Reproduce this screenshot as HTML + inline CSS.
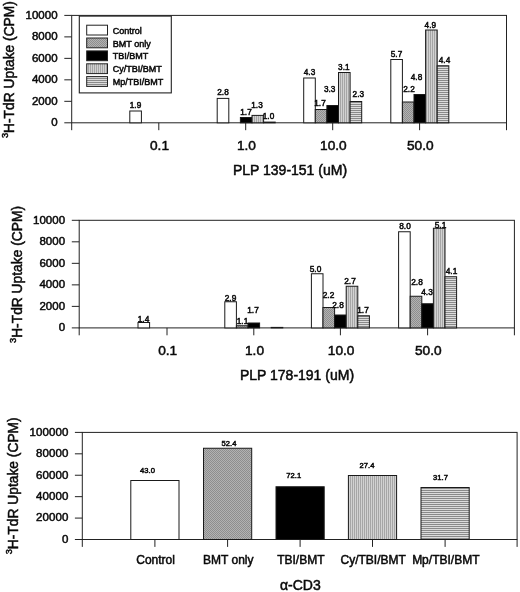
<!DOCTYPE html>
<html><head><meta charset="utf-8"><title>chart</title>
<style>
html,body{margin:0;padding:0;background:#fff;}
svg{display:block;font-family:"Liberation Sans", sans-serif;fill:#0a0a0a;filter:grayscale(100%);}
text{stroke:#0a0a0a;stroke-width:.5px;}
</style></head><body>
<svg width="520" height="592" viewBox="0 0 520 592">
<defs>
<pattern id="pD" width="2" height="2" patternUnits="userSpaceOnUse"><rect width="2" height="2" fill="#b2b2b2"/><rect width="1" height="1" fill="#8e8e8e"/><rect x="1" y="1" width="1" height="1" fill="#8e8e8e"/></pattern>
<pattern id="pV" width="2" height="2" patternUnits="userSpaceOnUse"><rect width="2" height="2" fill="#d2d2d2"/><rect width="1" height="2" fill="#a6a6a6"/></pattern>
<pattern id="pH" width="2" height="2" patternUnits="userSpaceOnUse"><rect width="2" height="2" fill="#dcdcdc"/><rect width="2" height="1" fill="#8a8a8a"/></pattern>
</defs>
<rect width="520" height="592" fill="#fff"/>

<rect x="71.7" y="15.4" width="434.8" height="107.39999999999999" fill="none" stroke="#222" stroke-width="1"/>
<line x1="64.3" y1="122.8" x2="71.7" y2="122.8" stroke="#222" stroke-width="1"/>
<text x="57.800000000000004" y="126.2" font-size="11.5" text-anchor="end" font-weight="normal" letter-spacing="0.08">0</text>
<line x1="64.3" y1="101.32" x2="71.7" y2="101.32" stroke="#222" stroke-width="1"/>
<text x="57.800000000000004" y="104.72" font-size="11.5" text-anchor="end" font-weight="normal" letter-spacing="0.08">2000</text>
<line x1="64.3" y1="79.84" x2="71.7" y2="79.84" stroke="#222" stroke-width="1"/>
<text x="57.800000000000004" y="83.24000000000001" font-size="11.5" text-anchor="end" font-weight="normal" letter-spacing="0.08">4000</text>
<line x1="64.3" y1="58.36" x2="71.7" y2="58.36" stroke="#222" stroke-width="1"/>
<text x="57.800000000000004" y="61.76" font-size="11.5" text-anchor="end" font-weight="normal" letter-spacing="0.08">6000</text>
<line x1="64.3" y1="36.88000000000001" x2="71.7" y2="36.88000000000001" stroke="#222" stroke-width="1"/>
<text x="57.800000000000004" y="40.28000000000001" font-size="11.5" text-anchor="end" font-weight="normal" letter-spacing="0.08">8000</text>
<line x1="64.3" y1="15.399999999999991" x2="71.7" y2="15.399999999999991" stroke="#222" stroke-width="1"/>
<text x="57.800000000000004" y="18.79999999999999" font-size="11.5" text-anchor="end" font-weight="normal" letter-spacing="0.08">10000</text>
<line x1="71.7" y1="122.8" x2="71.7" y2="130.2" stroke="#222" stroke-width="1"/>
<line x1="506.5" y1="122.8" x2="506.5" y2="130.2" stroke="#222" stroke-width="1"/>
<line x1="158.8" y1="122.8" x2="158.8" y2="130.2" stroke="#222" stroke-width="1"/>
<line x1="245.7" y1="122.8" x2="245.7" y2="130.2" stroke="#222" stroke-width="1"/>
<line x1="332.7" y1="122.8" x2="332.7" y2="130.2" stroke="#222" stroke-width="1"/>
<line x1="419.6" y1="122.8" x2="419.6" y2="130.2" stroke="#222" stroke-width="1"/>
<text x="159.5" y="149.6" font-size="13.7" text-anchor="middle" font-weight="normal" >0.1</text>
<text x="246.39999999999998" y="149.6" font-size="13.7" text-anchor="middle" font-weight="normal" >1.0</text>
<text x="333.4" y="149.6" font-size="13.7" text-anchor="middle" font-weight="normal" >10.0</text>
<text x="420.3" y="149.6" font-size="13.7" text-anchor="middle" font-weight="normal" >50.0</text>
<text x="290" y="174.7" font-size="14" text-anchor="middle" font-weight="normal" >PLP 139-151 (uM)</text>
<text transform="translate(14.3,69.6) rotate(-90)" font-size="13.8" text-anchor="middle"><tspan font-size="9.3" dy="-6.8">3</tspan><tspan dy="6.8">H-TdR Uptake (CPM)</tspan></text>
<rect x="129.80" y="111.00" width="11.60" height="11.80" fill="#fff" stroke="#1a1a1a" stroke-width="1"/>
<rect x="217.20" y="98.40" width="11.60" height="24.40" fill="#fff" stroke="#1a1a1a" stroke-width="1"/>
<rect x="240.40" y="117.50" width="11.60" height="5.30" fill="#000" stroke="#1a1a1a" stroke-width="1"/>
<rect x="252.00" y="115.40" width="11.60" height="7.40" fill="url(#pV)" stroke="#1a1a1a" stroke-width="1"/>
<rect x="263.60" y="122.10" width="11.60" height="0.70" fill="url(#pH)" stroke="#1a1a1a" stroke-width="1"/>
<rect x="303.70" y="78.00" width="11.60" height="44.80" fill="#fff" stroke="#1a1a1a" stroke-width="1"/>
<rect x="315.30" y="109.50" width="11.60" height="13.30" fill="url(#pD)" stroke="#1a1a1a" stroke-width="1"/>
<rect x="326.90" y="105.50" width="11.60" height="17.30" fill="#000" stroke="#1a1a1a" stroke-width="1"/>
<rect x="338.50" y="72.50" width="11.60" height="50.30" fill="url(#pV)" stroke="#1a1a1a" stroke-width="1"/>
<rect x="350.10" y="101.50" width="11.60" height="21.30" fill="url(#pH)" stroke="#1a1a1a" stroke-width="1"/>
<rect x="390.80" y="59.50" width="11.60" height="63.30" fill="#fff" stroke="#1a1a1a" stroke-width="1"/>
<rect x="402.40" y="102.00" width="11.60" height="20.80" fill="url(#pD)" stroke="#1a1a1a" stroke-width="1"/>
<rect x="414.00" y="94.50" width="11.60" height="28.30" fill="#000" stroke="#1a1a1a" stroke-width="1"/>
<rect x="425.60" y="30.00" width="11.60" height="92.80" fill="url(#pV)" stroke="#1a1a1a" stroke-width="1"/>
<rect x="437.20" y="65.75" width="11.60" height="57.05" fill="url(#pH)" stroke="#1a1a1a" stroke-width="1"/>
<text x="135.5" y="108" font-size="8.2" text-anchor="middle" font-weight="normal" stroke-width="0.7">1.9</text>
<text x="223" y="95" font-size="8.2" text-anchor="middle" font-weight="normal" stroke-width="0.7">2.8</text>
<text x="246" y="114.5" font-size="8.2" text-anchor="middle" font-weight="normal" stroke-width="0.7">1.7</text>
<text x="257" y="107.8" font-size="8.2" text-anchor="middle" font-weight="normal" stroke-width="0.7">1.3</text>
<text x="268.5" y="118.8" font-size="8.2" text-anchor="middle" font-weight="normal" stroke-width="0.7">1.0</text>
<text x="309.5" y="74.5" font-size="8.2" text-anchor="middle" font-weight="normal" stroke-width="0.7">4.3</text>
<text x="320" y="106" font-size="8.2" text-anchor="middle" font-weight="normal" stroke-width="0.7">1.7</text>
<text x="329.6" y="92.4" font-size="8.2" text-anchor="middle" font-weight="normal" stroke-width="0.7">3.3</text>
<text x="343.8" y="69.6" font-size="8.2" text-anchor="middle" font-weight="normal" stroke-width="0.7">3.1</text>
<text x="358.3" y="97.4" font-size="8.2" text-anchor="middle" font-weight="normal" stroke-width="0.7">2.3</text>
<text x="396.5" y="56.5" font-size="8.2" text-anchor="middle" font-weight="normal" stroke-width="0.7">5.7</text>
<text x="409" y="92" font-size="8.2" text-anchor="middle" font-weight="normal" stroke-width="0.7">2.2</text>
<text x="416.5" y="79.5" font-size="8.2" text-anchor="middle" font-weight="normal" stroke-width="0.7">4.8</text>
<text x="430.3" y="27.8" font-size="8.2" text-anchor="middle" font-weight="normal" stroke-width="0.7">4.9</text>
<text x="444.5" y="63" font-size="8.2" text-anchor="middle" font-weight="normal" stroke-width="0.7">4.4</text>
<rect x="79.3" y="16.1" width="92" height="76.8" fill="#fff" stroke="#222" stroke-width="1.1"/>
<rect x="86.7" y="25.2" width="20.8" height="9.8" fill="#fff" stroke="#222" stroke-width="1"/>
<text x="112.8" y="33.7" font-size="9.0" text-anchor="start" font-weight="normal" stroke-width="0.65">Control</text>
<rect x="86.7" y="38.0" width="20.8" height="9.8" fill="url(#pD)" stroke="#222" stroke-width="1"/>
<text x="112.8" y="46.55" font-size="9.0" text-anchor="start" font-weight="normal" stroke-width="0.65">BMT only</text>
<rect x="86.7" y="50.9" width="20.8" height="9.8" fill="#000" stroke="#222" stroke-width="1"/>
<text x="112.8" y="59.4" font-size="9.0" text-anchor="start" font-weight="normal" stroke-width="0.65">TBI/BMT</text>
<rect x="86.7" y="63.8" width="20.8" height="9.8" fill="url(#pV)" stroke="#222" stroke-width="1"/>
<text x="112.8" y="72.25" font-size="9.0" text-anchor="start" font-weight="normal" stroke-width="0.65">Cy/TBI/BMT</text>
<rect x="86.7" y="76.6" width="20.8" height="9.8" fill="url(#pH)" stroke="#222" stroke-width="1"/>
<text x="112.8" y="85.1" font-size="9.0" text-anchor="start" font-weight="normal" stroke-width="0.65">Mp/TBI/BMT</text>
<rect x="79.2" y="220.3" width="435.2" height="107.59999999999997" fill="none" stroke="#222" stroke-width="1"/>
<line x1="71.8" y1="327.9" x2="79.2" y2="327.9" stroke="#222" stroke-width="1"/>
<text x="65.3" y="331.29999999999995" font-size="11.5" text-anchor="end" font-weight="normal" letter-spacing="0.08">0</text>
<line x1="71.8" y1="306.38" x2="79.2" y2="306.38" stroke="#222" stroke-width="1"/>
<text x="65.3" y="309.78" font-size="11.5" text-anchor="end" font-weight="normal" letter-spacing="0.08">2000</text>
<line x1="71.8" y1="284.86" x2="79.2" y2="284.86" stroke="#222" stroke-width="1"/>
<text x="65.3" y="288.26" font-size="11.5" text-anchor="end" font-weight="normal" letter-spacing="0.08">4000</text>
<line x1="71.8" y1="263.34000000000003" x2="79.2" y2="263.34000000000003" stroke="#222" stroke-width="1"/>
<text x="65.3" y="266.74" font-size="11.5" text-anchor="end" font-weight="normal" letter-spacing="0.08">6000</text>
<line x1="71.8" y1="241.82" x2="79.2" y2="241.82" stroke="#222" stroke-width="1"/>
<text x="65.3" y="245.22" font-size="11.5" text-anchor="end" font-weight="normal" letter-spacing="0.08">8000</text>
<line x1="71.8" y1="220.3" x2="79.2" y2="220.3" stroke="#222" stroke-width="1"/>
<text x="65.3" y="223.70000000000002" font-size="11.5" text-anchor="end" font-weight="normal" letter-spacing="0.08">10000</text>
<line x1="79.2" y1="327.9" x2="79.2" y2="335.29999999999995" stroke="#222" stroke-width="1"/>
<line x1="514.4" y1="327.9" x2="514.4" y2="335.29999999999995" stroke="#222" stroke-width="1"/>
<line x1="167.0" y1="327.9" x2="167.0" y2="335.29999999999995" stroke="#222" stroke-width="1"/>
<line x1="253.8" y1="327.9" x2="253.8" y2="335.29999999999995" stroke="#222" stroke-width="1"/>
<line x1="340.4" y1="327.9" x2="340.4" y2="335.29999999999995" stroke="#222" stroke-width="1"/>
<line x1="427.6" y1="327.9" x2="427.6" y2="335.29999999999995" stroke="#222" stroke-width="1"/>
<text x="167.7" y="355" font-size="13.7" text-anchor="middle" font-weight="normal" >0.1</text>
<text x="254.5" y="355" font-size="13.7" text-anchor="middle" font-weight="normal" >1.0</text>
<text x="341.09999999999997" y="355" font-size="13.7" text-anchor="middle" font-weight="normal" >10.0</text>
<text x="428.3" y="355" font-size="13.7" text-anchor="middle" font-weight="normal" >50.0</text>
<text x="297" y="379.8" font-size="14" text-anchor="middle" font-weight="normal" >PLP 178-191 (uM)</text>
<text transform="translate(22.3,274.5) rotate(-90)" font-size="13.8" text-anchor="middle"><tspan font-size="9.3" dy="-6.8">3</tspan><tspan dy="6.8">H-TdR Uptake (CPM)</tspan></text>
<rect x="138.00" y="322.50" width="11.60" height="5.40" fill="#fff" stroke="#1a1a1a" stroke-width="1"/>
<rect x="224.80" y="301.75" width="11.60" height="26.15" fill="#fff" stroke="#1a1a1a" stroke-width="1"/>
<rect x="236.40" y="325.75" width="11.60" height="2.15" fill="url(#pD)" stroke="#1a1a1a" stroke-width="1"/>
<rect x="248.00" y="323.00" width="11.60" height="4.90" fill="#000" stroke="#1a1a1a" stroke-width="1"/>
<rect x="271.20" y="327.40" width="11.60" height="0.50" fill="url(#pH)" stroke="#1a1a1a" stroke-width="1"/>
<rect x="311.40" y="273.75" width="11.60" height="54.15" fill="#fff" stroke="#1a1a1a" stroke-width="1"/>
<rect x="323.00" y="307.50" width="11.60" height="20.40" fill="url(#pD)" stroke="#1a1a1a" stroke-width="1"/>
<rect x="334.60" y="315.00" width="11.60" height="12.90" fill="#000" stroke="#1a1a1a" stroke-width="1"/>
<rect x="346.20" y="286.25" width="11.60" height="41.65" fill="url(#pV)" stroke="#1a1a1a" stroke-width="1"/>
<rect x="357.80" y="315.75" width="11.60" height="12.15" fill="url(#pH)" stroke="#1a1a1a" stroke-width="1"/>
<rect x="398.60" y="231.75" width="11.60" height="96.15" fill="#fff" stroke="#1a1a1a" stroke-width="1"/>
<rect x="410.20" y="296.25" width="11.60" height="31.65" fill="url(#pD)" stroke="#1a1a1a" stroke-width="1"/>
<rect x="421.80" y="303.75" width="11.60" height="24.15" fill="#000" stroke="#1a1a1a" stroke-width="1"/>
<rect x="433.40" y="228.25" width="11.60" height="99.65" fill="url(#pV)" stroke="#1a1a1a" stroke-width="1"/>
<rect x="445.00" y="276.75" width="11.60" height="51.15" fill="url(#pH)" stroke="#1a1a1a" stroke-width="1"/>
<text x="143.5" y="321.8" font-size="8.3" text-anchor="middle" font-weight="normal" stroke-width="0.35">1.4</text>
<text x="230.5" y="300.5" font-size="8.3" text-anchor="middle" font-weight="normal" stroke-width="0.35">2.9</text>
<text x="242.5" y="323.5" font-size="8.3" text-anchor="middle" font-weight="normal" stroke-width="0.35">1.1</text>
<text x="253" y="312.5" font-size="8.3" text-anchor="middle" font-weight="normal" stroke-width="0.35">1.7</text>
<text x="315.5" y="271.75" font-size="8.3" text-anchor="middle" font-weight="normal" stroke-width="0.35">5.0</text>
<text x="328.5" y="297.5" font-size="8.3" text-anchor="middle" font-weight="normal" stroke-width="0.35">2.2</text>
<text x="338" y="307.5" font-size="8.3" text-anchor="middle" font-weight="normal" stroke-width="0.35">2.8</text>
<text x="350" y="284" font-size="8.3" text-anchor="middle" font-weight="normal" stroke-width="0.35">2.7</text>
<text x="363" y="313" font-size="8.3" text-anchor="middle" font-weight="normal" stroke-width="0.35">1.7</text>
<text x="405" y="228.75" font-size="8.3" text-anchor="middle" font-weight="normal" stroke-width="0.35">8.0</text>
<text x="417" y="285" font-size="8.3" text-anchor="middle" font-weight="normal" stroke-width="0.35">2.8</text>
<text x="427" y="295" font-size="8.3" text-anchor="middle" font-weight="normal" stroke-width="0.35">4.3</text>
<text x="440.5" y="227.5" font-size="8.3" text-anchor="middle" font-weight="normal" stroke-width="0.35">5.1</text>
<text x="451.5" y="274" font-size="8.3" text-anchor="middle" font-weight="normal" stroke-width="0.35">4.1</text>
<rect x="82.3" y="432.4" width="434.8" height="107.10000000000002" fill="none" stroke="#222" stroke-width="1"/>
<line x1="74.89999999999999" y1="539.5" x2="82.3" y2="539.5" stroke="#222" stroke-width="1"/>
<text x="68.39999999999999" y="542.9" font-size="11.5" text-anchor="end" font-weight="normal" letter-spacing="0.08">0</text>
<line x1="74.89999999999999" y1="518.08" x2="82.3" y2="518.08" stroke="#222" stroke-width="1"/>
<text x="68.39999999999999" y="521.48" font-size="11.5" text-anchor="end" font-weight="normal" letter-spacing="0.08">20000</text>
<line x1="74.89999999999999" y1="496.65999999999997" x2="82.3" y2="496.65999999999997" stroke="#222" stroke-width="1"/>
<text x="68.39999999999999" y="500.05999999999995" font-size="11.5" text-anchor="end" font-weight="normal" letter-spacing="0.08">40000</text>
<line x1="74.89999999999999" y1="475.24" x2="82.3" y2="475.24" stroke="#222" stroke-width="1"/>
<text x="68.39999999999999" y="478.64" font-size="11.5" text-anchor="end" font-weight="normal" letter-spacing="0.08">60000</text>
<line x1="74.89999999999999" y1="453.82" x2="82.3" y2="453.82" stroke="#222" stroke-width="1"/>
<text x="68.39999999999999" y="457.21999999999997" font-size="11.5" text-anchor="end" font-weight="normal" letter-spacing="0.08">80000</text>
<line x1="74.89999999999999" y1="432.4" x2="82.3" y2="432.4" stroke="#222" stroke-width="1"/>
<text x="68.39999999999999" y="435.79999999999995" font-size="11.5" text-anchor="end" font-weight="normal" letter-spacing="0.08">100000</text>
<line x1="82.3" y1="539.5" x2="82.3" y2="546.9" stroke="#222" stroke-width="1"/>
<line x1="517.1" y1="539.5" x2="517.1" y2="546.9" stroke="#222" stroke-width="1"/>
<line x1="154.9" y1="539.5" x2="154.9" y2="546.9" stroke="#222" stroke-width="1"/>
<line x1="227.6" y1="539.5" x2="227.6" y2="546.9" stroke="#222" stroke-width="1"/>
<line x1="300.1" y1="539.5" x2="300.1" y2="546.9" stroke="#222" stroke-width="1"/>
<line x1="372.5" y1="539.5" x2="372.5" y2="546.9" stroke="#222" stroke-width="1"/>
<line x1="445.1" y1="539.5" x2="445.1" y2="546.9" stroke="#222" stroke-width="1"/>
<text x="155.6" y="564.4" font-size="12" text-anchor="middle" font-weight="normal" >Control</text>
<text x="228.29999999999998" y="564.4" font-size="12" text-anchor="middle" font-weight="normal" >BMT only</text>
<text x="300.8" y="564.4" font-size="12" text-anchor="middle" font-weight="normal" >TBI/BMT</text>
<text x="373.2" y="564.4" font-size="12" text-anchor="middle" font-weight="normal" >Cy/TBI/BMT</text>
<text x="445.8" y="564.4" font-size="12" text-anchor="middle" font-weight="normal" >Mp/TBI/BMT</text>
<text x="300.3" y="589.6" font-size="14" text-anchor="middle" font-weight="normal" >&#945;-CD3</text>
<text transform="translate(18.4,485.8) rotate(-90)" font-size="13.8" text-anchor="middle"><tspan font-size="9.3" dy="-6.8">3</tspan><tspan dy="6.8">H-TdR Uptake (CPM)</tspan></text>
<rect x="130.80" y="480.50" width="48.20" height="59.00" fill="#fff" stroke="#1a1a1a" stroke-width="1"/>
<rect x="203.50" y="448.25" width="48.20" height="91.25" fill="url(#pD)" stroke="#1a1a1a" stroke-width="1"/>
<rect x="276.00" y="486.75" width="48.20" height="52.75" fill="#000" stroke="#1a1a1a" stroke-width="1"/>
<rect x="348.40" y="475.50" width="48.20" height="64.00" fill="url(#pV)" stroke="#1a1a1a" stroke-width="1"/>
<rect x="421.00" y="487.50" width="48.20" height="52.00" fill="url(#pH)" stroke="#1a1a1a" stroke-width="1"/>
<text x="147.5" y="472.5" font-size="7.6" text-anchor="middle" font-weight="normal" stroke-width="0.7">43.0</text>
<text x="229" y="445.5" font-size="7.6" text-anchor="middle" font-weight="normal" stroke-width="0.7">52.4</text>
<text x="293.75" y="478" font-size="7.6" text-anchor="middle" font-weight="normal" stroke-width="0.7">72.1</text>
<text x="367" y="467.5" font-size="7.6" text-anchor="middle" font-weight="normal" stroke-width="0.7">27.4</text>
<text x="440.5" y="479.5" font-size="7.6" text-anchor="middle" font-weight="normal" stroke-width="0.7">31.7</text>
</svg></body></html>
